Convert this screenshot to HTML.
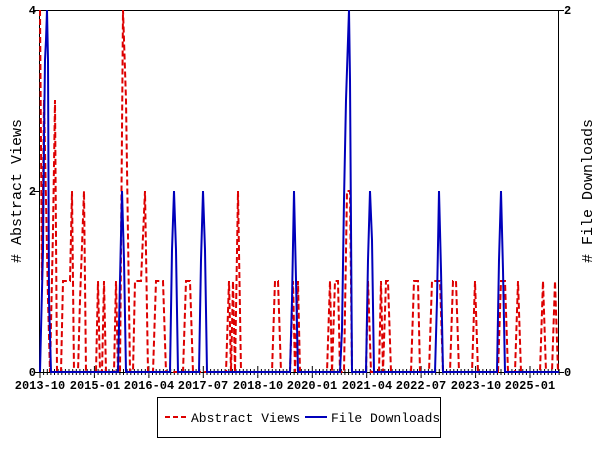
<!DOCTYPE html>
<html><head><style>
body{margin:0;background:#fff;}
text{font-family:"Liberation Mono","DejaVu Sans Mono",monospace;}
</style></head><body>
<svg width="600" height="450" viewBox="0 0 600 450" xmlns="http://www.w3.org/2000/svg">
<rect x="0" y="0" width="600" height="450" fill="#fff"/>
<rect x="39.5" y="10.5" width="519" height="362" fill="none" stroke="#000" stroke-width="1"/>
<g id="ticks" stroke="#000" stroke-width="1"></g>
<polyline fill="none" stroke="#dd0000" stroke-width="2" stroke-dasharray="6,3" points="40,10 42,280 44,100 46,200 48,300 50,372 53,230 55,100 57,372 61,372 63,281 70,281 72,191 74,372 78,372 80,300 84,191 86,372 96,372 98,281 100,372 102,372 104,281 106,372 114,372 116,281 118,372 120,372 123,10 126,100 130,372 133,372 135,281 141,281 145,191 148,372 153,372 156,281 163,281 166,372 183,372 186,281 190,281 193,372 226,372 229,281 231,372 233,281 235,372 238,191 241,372 272,372 275,281 278,281 281,372 290,372 293,281 295,372 298,281 300,372 327,372 330,281 332,372 335,281 338,281 340,372 344,372 347,191 350,191 352,372 366,372 368,281 371,372 379,372 381,281 383,372 386,281 388,281 391,372 411,372 414,281 416,281 418,281 420,372 429,372 432,281 440,281 443,372 450,372 453,281 456,281 459,372 472,372 475,281 478,372 498,372 501,281 505,281 508,372 515,372 518,281 521,372 540,372 543,281 546,372 552,372 555,281 558,372"/>
<polyline fill="none" stroke="#0000bb" stroke-width="2" points="40,372 41,330 43,250 44,140 45,60 46,40 47,10 48,60 49,300 51,372 118,372 120,280 122,191 124,260 126,372 170,372 172,250 174,191 176,250 178,372 199,372 201,260 203,191 205,250 207,372 290,372 292,300 294,191 296,280 298,372 340,372 342,330 344,200 346,100 348,40 349,10 350,80 352,372 366,372 368,260 370,191 372,240 374,372 435,372 437,300 439,191 441,270 443,372 497,372 499,260 501,191 503,270 505,372 559,372"/>
<g font-size="12" font-weight="bold" fill="#000">
<text x="36" y="14" text-anchor="end">4</text>
<text x="36" y="195" text-anchor="end">2</text>
<text x="36" y="376" text-anchor="end">0</text>
<text x="564" y="14">2</text>
<text x="564" y="376">0</text>
<g text-anchor="middle">
<text x="40" y="389">2013-10</text><text x="95" y="389">2015-01</text><text x="149" y="389">2016-04</text><text x="203" y="389">2017-07</text><text x="258" y="389">2018-10</text><text x="312" y="389">2020-01</text><text x="367" y="389">2021-04</text><text x="421" y="389">2022-07</text><text x="476" y="389">2023-10</text><text x="530" y="389">2025-01</text>
</g></g>
<text transform="translate(21,191) rotate(-90)" font-size="15" text-anchor="middle"># Abstract Views</text>
<text transform="translate(592,191) rotate(-90)" font-size="15" text-anchor="middle"># File Downloads</text>
<rect x="157.5" y="397.5" width="283" height="40" fill="#fff" stroke="#000"/>
<line x1="165" y1="417" x2="187" y2="417" stroke="#dd0000" stroke-width="2" stroke-dasharray="5,3"/>
<text x="191" y="422" font-size="13">Abstract Views</text>
<line x1="305" y1="417" x2="327" y2="417" stroke="#0000bb" stroke-width="2"/>
<text x="331" y="422" font-size="13">File Downloads</text>
</svg>
<script>
var g=document.getElementById('ticks'),s='';
for(var i=0;i<=143;i++){var x=40+i*3.63;var maj=(i%15==0);s+='<line x1="'+x.toFixed(1)+'" y1="'+(maj?366:369)+'" x2="'+x.toFixed(1)+'" y2="'+(maj?378:375)+'"/>';}
s+='<line x1="34" y1="10.5" x2="40" y2="10.5"/><line x1="34" y1="191.5" x2="40" y2="191.5"/><line x1="34" y1="372.5" x2="40" y2="372.5"/><line x1="558" y1="10.5" x2="564" y2="10.5"/><line x1="558" y1="372.5" x2="564" y2="372.5"/>';
g.innerHTML=s;
</script>
</body></html>
